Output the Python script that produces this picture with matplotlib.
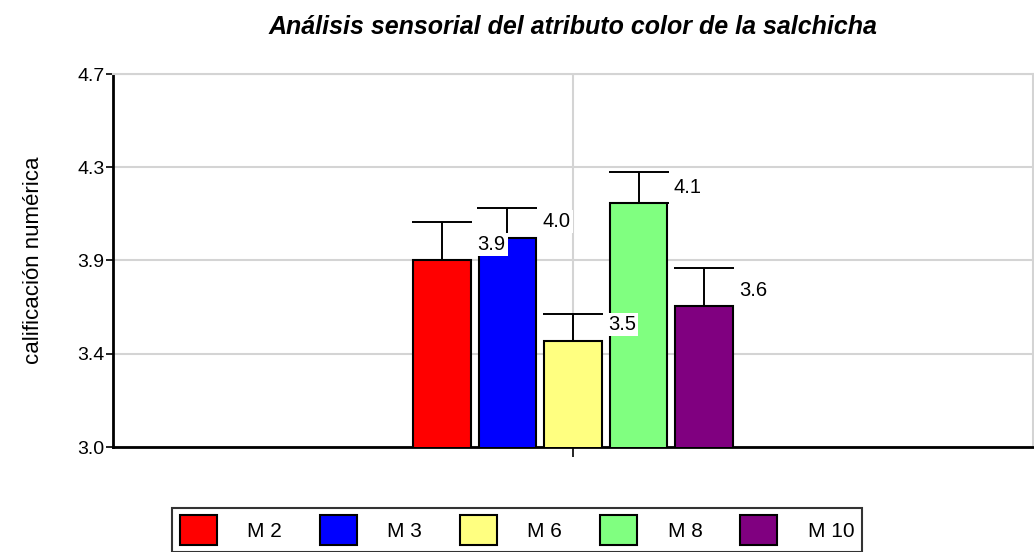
import numpy as np
import matplotlib
matplotlib.use("Agg")
import matplotlib.pyplot as plt
from matplotlib.patches import Patch

plt.rcParams['font.family'] = ['Liberation Sans', 'DejaVu Sans']

# datos
muestras = ["M 2", "M 3", "M 6", "M 8", "M 10"]
medias = [3.852, 3.953, 3.484, 4.110, 3.642]
errores = [0.172, 0.137, 0.121, 0.145, 0.172]
colores = ["#ff0000", "#0000ff", "#ffff80", "#80ff80", "#800080"]
yticks = [3.0, 3.425, 3.85, 4.275, 4.7]
yticklabels = ["3.0", "3.4", "3.9", "4.3", "4.7"]

fig = plt.figure(figsize=(10.34, 5.52), dpi=100)
ax = fig.add_axes([113/1034, 1 - 447/552, 920/1034, 373/552])

paso = 0.0712
ancho = 0.062
x = (np.arange(len(muestras)) - 2) * paso

ax.bar(x, medias, width=ancho, color=colores, edgecolor="black",
       linewidth=1.5, zorder=3)
ax.errorbar(x, medias, yerr=[np.zeros(len(errores)), errores], fmt="none",
            ecolor="black", elinewidth=1.4, capsize=21.6, capthick=1.4,
            zorder=2)

for xi, m in zip(x, medias):
    ax.annotate(f"{m:.1f}", xy=(xi + ancho/2, m), xytext=(5, 11.5),
                textcoords="offset points", ha="left", va="center",
                fontsize=14.5, zorder=5,
                bbox=dict(boxstyle="square,pad=0.1", fc="white", ec="none"))

ax.set_xlim(-0.5, 0.5)
ax.set_ylim(3.0, 4.7)
ax.set_yticks(yticks)
ax.set_yticklabels(yticklabels, fontsize=14)
ax.set_xticks([0])
ax.set_xticklabels([""])
ax.tick_params(axis="y", direction="out", length=5, width=1.2, pad=1)
ax.tick_params(axis="x", direction="out", length=7, width=1.2)

ax.grid(True, color="#d4d4d4", linewidth=1.5, zorder=0)
ax.set_axisbelow(True)
for s in ["left", "bottom"]:
    ax.spines[s].set_color("black")
    ax.spines[s].set_linewidth(2)
for s in ["right", "top"]:
    ax.spines[s].set_color("#d4d4d4")
    ax.spines[s].set_linewidth(1.5)

ax.set_ylabel("calificación numérica", fontsize=16, labelpad=24)
ax.set_title("Análisis sensorial del atributo color de la salchicha",
             fontsize=18, fontweight="bold", style="italic", pad=29)

handles = [Patch(facecolor=c, edgecolor="black", linewidth=1.5) for c in colores]
leg = fig.legend(handles, muestras, loc="upper center", ncol=5,
                 bbox_to_anchor=(0.5, 1 - 508/552), fontsize=15,
                 frameon=True, fancybox=False, edgecolor="black",
                 handlelength=1.8, handleheight=1.8, handletextpad=1.45,
                 columnspacing=1.8, borderpad=0.35, borderaxespad=0)
leg.get_frame().set_linewidth(1.5)

plt.savefig("out.png", dpi=100)
